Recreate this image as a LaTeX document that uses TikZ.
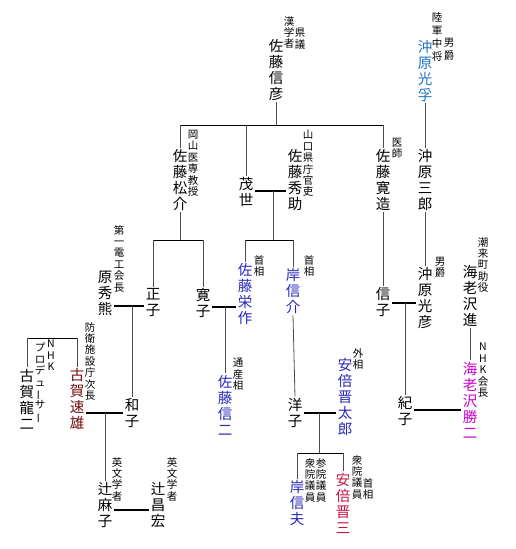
\documentclass[tikz,border=0pt]{standalone}
\usepackage{fontspec}
\setmainfont{Noto Sans CJK JP}
\usepackage{graphicx}
\definecolor{okiblue}{RGB}{30,112,192}
\definecolor{pmblue}{RGB}{40,40,185}
\definecolor{abered}{RGB}{195,20,60}
\definecolor{kogared}{RGB}{115,15,15}
\definecolor{nhkpink}{RGB}{205,0,205}
\newcommand{\chonon}{\rotatebox[origin=c]{90}{ー}}
\begin{document}
\begin{tikzpicture}[x=1pt,y=-1pt,
  person/.style={align=center,inner sep=1.5pt,font=\fontsize{14.5}{16}\selectfont},
  note/.style={align=center,inner sep=0pt,anchor=north,font=\fontsize{10.5}{11.4}\selectfont},
  kin/.style={gray!60!black,line width=0.8pt},
  bar/.style={black,line width=0.8pt},
  wed/.style={black,line width=2pt}]
\useasboundingbox (0,0) rectangle (515,549);
% first generation
\node[person] (nobuhiko) at (276,70) {佐\\藤\\信\\彦};
\node[note] (nobuhikoA) at (289,16) {漢\\学\\者};
\node[note] (nobuhikoB) at (300,28) {県\\議};
\node[person,text=okiblue] (mitsutaka) at (425,71) {沖\\原\\光\\孚};
\node[note,font=\fontsize{10.5}{13}\selectfont] (mitsutakaA) at (437,12) {陸\\軍\\中\\将};
\node[note,font=\fontsize{10.5}{13}\selectfont] (mitsutakaB) at (449,38) {男\\爵};
% second generation
\node[person] (shosuke) at (180,180) {佐\\藤\\松\\介};
\node[note] (shosukeA) at (193,130) {岡\\山\\医\\専\\教\\授};
\node[person] (moyo) at (246,192) {茂\\世};
\node[person] (hidesuke) at (295,180) {佐\\藤\\秀\\助};
\node[note] (hidesukeA) at (308,130) {山\\口\\県\\庁\\官\\吏};
\node[person] (kanzo) at (383,180) {佐\\藤\\寛\\造};
\node[note] (kanzoA) at (397,138) {医\\師};
\node[person] (saburo) at (425,180) {沖\\原\\三\\郎};
% third generation
\node[person] (hara) at (105,293) {原\\秀\\熊};
\node[note] (haraA) at (119,225) {第\\一\\電\\工\\会\\長};
\node[person] (masako) at (153,303) {正\\子};
\node[person] (hiroko) at (203,303) {寛\\子};
\node[person,text=pmblue] (eisaku) at (245,294) {佐\\藤\\栄\\作};
\node[note] (eisakuA) at (259,255) {首\\相};
\node[person,text=pmblue] (kishi) at (293,291) {岸\\信\\介};
\node[note] (kishiA) at (309,255) {首\\相};
\node[person] (nobuko) at (383,302) {信\\子};
\node[person] (mitsuhiko) at (425,298) {沖\\原\\光\\彦};
\node[note] (mitsuhikoA) at (440,257) {男\\爵};
\node[person] (susumu) at (470,296) {海\\老\\沢\\進};
\node[note] (susumuA) at (483,237) {潮\\来\\町\\助\\役};
% fourth generation
\node[person] (ryuji) at (27,399) {古\\賀\\龍\\二};
\node[note] (ryujiA) at (51,340) {N\\H\\K};
\node[note] (ryujiB) at (40,343) {プ\\ロ\\デ\\ュ\\\chonon\\サ\\\chonon};
\node[person,text=kogared] (hayao) at (77,399) {古\\賀\\速\\雄};
\node[note] (hayaoA) at (90,322) {防\\衛\\施\\設\\庁\\次\\長};
\node[person] (kazuko) at (132,413) {和\\子};
\node[person,text=pmblue] (shinji) at (225,405) {佐\\藤\\信\\二};
\node[note] (shinjiA) at (238,358) {通\\産\\相};
\node[person] (yoko) at (295,413) {洋\\子};
\node[person,text=pmblue] (shintaro) at (345,397) {安\\倍\\晋\\太\\郎};
\node[note] (shintaroA) at (358,348) {外\\相};
\node[person] (noriko) at (405,411) {紀\\子};
\node[person,text=nhkpink] (katsuji) at (470,400) {海\\老\\沢\\勝\\二};
\node[note] (katsujiA) at (483,343) {N\\H\\K\\会\\長};
% fifth generation
\node[person] (asako) at (105,505) {辻\\麻\\子};
\node[note] (asakoA) at (117,457) {英\\文\\学\\者};
\node[person] (masahiro) at (158,505) {辻\\昌\\宏};
\node[note] (masahiroA) at (172,457) {英\\文\\学\\者};
\node[person,text=pmblue] (nobuo) at (297,503) {岸\\信\\夫};
\node[note] (nobuoA) at (321,458) {参\\院\\議\\員};
\node[note] (nobuoB) at (310,458) {衆\\院\\議\\員};
\node[person,text=abered] (shinzo) at (343,503) {安\\倍\\晋\\三};
\node[note] (shinzoA) at (357,455) {衆\\院\\議\\員};
\node[note] (shinzoB) at (368,478) {首\\相};
% junction points
\coordinate (satoBar) at (0,125);
\coordinate (moyoWed) at (0,191);
\coordinate (moyoMid) at (273,191);
\coordinate (pmBar) at (273,240);
\coordinate (shoBar) at (180,240);
\coordinate (haraWed) at (0,306);
\coordinate (haraMid) at (132,306);
\coordinate (hiroWed) at (0,307);
\coordinate (hiroMid) at (225,307);
\coordinate (nobuWed) at (0,303);
\coordinate (nobuMid) at (405,303);
\coordinate (noriWed) at (0,410);
\coordinate (kogaBar) at (0,338);
\coordinate (kogaWed) at (0,413);
\coordinate (kogaMid) at (105,413);
\coordinate (yokoWed) at (0,413);
\coordinate (yokoMid) at (319,413);
\coordinate (abeBar) at (319,453);
\coordinate (tsujiWed) at (0,510);
% Sato line
\draw[kin] (nobuhiko.south) -- (nobuhiko.south |- satoBar);
\draw[bar] (shosuke.north |- satoBar) -- (kanzo.north |- satoBar);
\foreach \child in {shosuke,moyo,kanzo}
  \draw[kin] (\child.north |- satoBar) -- (\child.north);
\draw[wed] (moyo.east |- moyoWed) -- (hidesuke.west |- moyoWed);
\draw[kin] (moyoMid) -- (pmBar);
\draw[bar] (eisaku.north |- pmBar) -- (kishi.north |- pmBar);
\foreach \child in {eisaku,kishi}
  \draw[kin] (\child.north |- pmBar) -- (\child.north);
\draw[kin] (shosuke.south) -- (shoBar);
\draw[bar] (masako.north |- shoBar) -- (hiroko.north |- shoBar);
\foreach \child in {masako,hiroko}
  \draw[kin] (\child.north |- shoBar) -- (\child.north);
\draw[wed] (hara.east |- haraWed) -- (masako.west |- haraWed);
\draw[kin] (haraMid) -- (kazuko.north);
\draw[wed] (hiroko.east |- hiroWed) -- (eisaku.west |- hiroWed);
\draw[kin] (hiroMid) -- (shinji.north);
\draw[kin] (kishi.south) -- (yoko.north);
\draw[wed] (yoko.east |- yokoWed) -- (shintaro.west |- yokoWed);
\draw[kin] (yokoMid) -- (abeBar);
\draw[bar] (nobuo.north |- abeBar) -- (shinzo.north |- abeBar);
\foreach \child in {nobuo,shinzo}
  \draw[kin] (\child.north |- abeBar) -- (\child.north);
% Okihara and Ebisawa
\draw[kin] (mitsutaka.south) -- (saburo.north);
\draw[kin] (saburo.south) -- (mitsuhiko.north);
\draw[kin] (kanzo.south) -- (nobuko.north);
\draw[wed] (nobuko.east |- nobuWed) -- (mitsuhiko.west |- nobuWed);
\draw[kin] (nobuMid) -- (noriko.north);
\draw[kin] (susumu.south) -- (katsuji.north);
\draw[wed] (noriko.east |- noriWed) -- (katsuji.west |- noriWed);
% Koga and Tsuji
\draw[bar] (ryuji.north |- kogaBar) -- (hayao.north |- kogaBar);
\foreach \child in {ryuji,hayao}
  \draw[kin] (\child.north |- kogaBar) -- (\child.north);
\draw[wed] (hayao.east |- kogaWed) -- (kazuko.west |- kogaWed);
\draw[kin] (kogaMid) -- (asako.north);
\draw[wed] (asako.east |- tsujiWed) -- (masahiro.west |- tsujiWed);
\end{tikzpicture}
\end{document}
